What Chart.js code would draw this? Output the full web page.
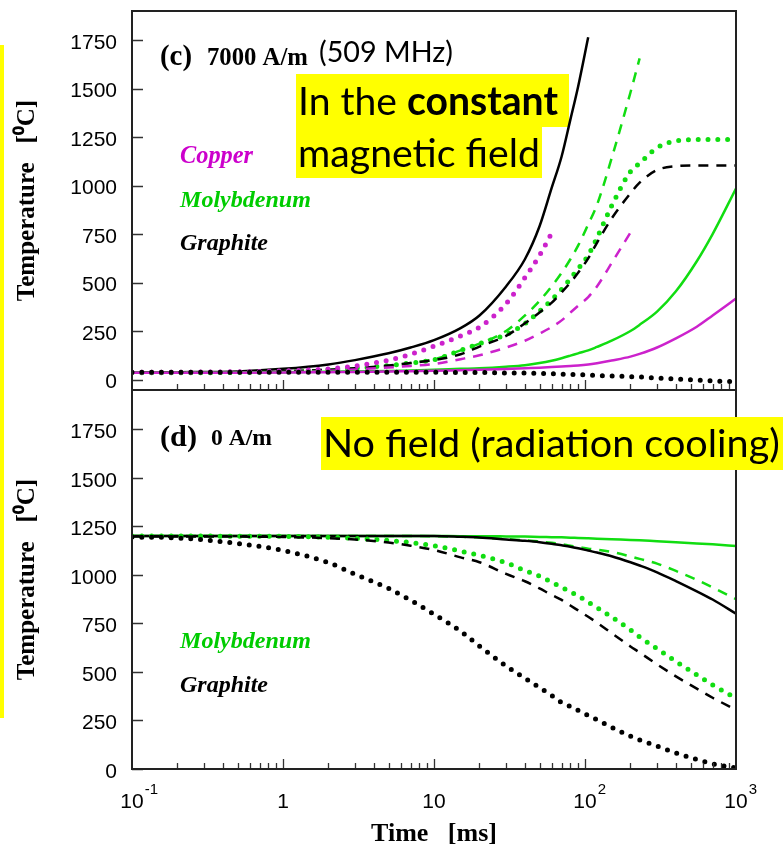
<!DOCTYPE html>
<html><head><meta charset="utf-8">
<script src="https://cdn.jsdelivr.net/npm/chart.js@4/dist/chart.umd.min.js"></script>
<style>
html,body{margin:0;padding:0;background:#fff;}
body{width:783px;height:850px;position:relative;overflow:hidden;}
#wrapTop{position:absolute;left:0;top:0;width:783px;height:395px;z-index:2}
#wrapBot{position:absolute;left:0;top:380px;width:783px;height:470px;z-index:1}
#ybar{position:absolute;left:0;top:45px;width:4px;height:673px;background:#ffff00;z-index:3}
canvas{display:block}
</style></head><body>
<div id="ybar"></div>
<div id="wrapTop"><canvas id="cTop" width="783" height="395"></canvas></div>
<div id="wrapBot"><canvas id="cBot" width="783" height="470"></canvas></div>
<script>
// ---- data (time in ms, temperature in deg C) ----
const timeMs = [0.1,0.2,0.5,1,2,3,5,7,10,15,20,30,40,50,60,70,80,90,105,120,150,200,230,300,400,550,700,1000];

// (c) 7000 A/m
const topGraphiteSolid  = [37,38,42,55,78,100,135,165,203,265,330,480,620,790,985,1150,1340,1510,1765,null,null,null,null,null,null,null,null,null];
const topGraphiteDashed = [35,35,37,42,50,58,72,85,100,130,170,225,290,345,395,450,500,550,625,705,830,960,1015,1080,1100,1104,1104,1104];
const topGraphiteDotted = [37,37,37,37,37,37,37,37,37,36,36,34,33,31,30,28,27,25,23,21,18,15,13,8,3,-3,-7,-11];
const topMoSolid  = [35,35,36,38,40,42,44,47,50,55,58,66,74,85,97,110,123,135,150,168,200,250,282,350,455,610,750,985];
const topMoDashed = [35,35,37,42,50,58,68,85,105,150,185,250,330,405,480,550,620,690,800,900,1140,1480,1656,null,null,null,null,null];
const topMoDotted = [35,35,37,42,50,58,72,85,102,150,185,232,288,352,410,465,520,570,640,730,895,1072,1115,1195,1230,1237,1238,1238];
const topCuSolid  = [35,35,35,36,38,39,41,43,45,48,50,54,58,61,64,67,70,72,77,84,98,118,132,165,212,272,330,418];
const topCuDashed = [35,35,36,38,45,52,62,70,80,105,125,165,200,237,270,305,345,380,425,480,600,758,null,null,null,null,null,null];
const topCuDotted = [38,38,40,44,55,70,100,130,172,225,270,390,525,640,754,null,null,null,null,null,null,null,null,null,null,null,null,null];

// (d) 0 A/m
const botGraphiteSolid  = [1200,1200,1200,1200,1200,1200,1200,1200,1200,1196,1192,1182,1175,1168,1160,1152,1145,1137,1125,1115,1096,1065,1048,1013,968,915,873,800];
const botGraphiteDashed = [1198,1198,1197,1195,1189,1182,1166,1150,1128,1090,1065,1005,967,930,897,871,842,817,784,754,700,631,600,539,477,414,367,305];
const botGraphiteDotted = [1195,1190,1162,1125,1063,1003,930,869,797,710,633,531,467,419,379,342,322,302,276,254,215,169,150,118,83,49,27,5];
const botMoSolid  = [1200,1200,1200,1200,1200,1200,1200,1200,1200,1199,1199,1198,1197,1195,1194,1193,1191,1190,1188,1186,1183,1180,1178,1173,1168,1162,1157,1149];
const botMoDashed = [1200,1200,1200,1200,1200,1200,1200,1200,1199,1196,1192,1185,1178,1172,1165,1158,1150,1144,1135,1130,1118,1095,1082,1058,1020,974,935,875];
const botMoDotted = [1200,1200,1199,1198,1194,1188,1177,1166,1150,1122,1100,1062,1022,993,962,936,913,892,859,831,783,716,680,620,554,485,433,365];

// ticks
const yTickValues = [0,250,500,750,1000,1250,1500,1750];
const xTickValues = [0.1,1,10,100,1000];
const xTickBase = ['10','1','10','10','10'];
const xTickExp  = ['-1','','','2','3'];

// ---- styles ----
const BLACK = '#000000', GREEN = '#11dd11', MAGENTA = '#cc22cc';
const STYLES = {
  solid:  {borderWidth: 2.5, borderDash: [], borderCapStyle: 'butt'},
  dashed: {borderWidth: 2.5, borderDash: [10, 8], borderCapStyle: 'butt'},
  dotted: {borderWidth: 5,   borderDash: [0, 9.8], borderCapStyle: 'round'}
};
function ds(label, values, color, style) {
  return Object.assign({
    label, borderColor: color, backgroundColor: color,
    data: timeMs.map((t, i) => ({x: t, y: values[i]})),
    pointRadius: 0, fill: false, spanGaps: false,
    cubicInterpolationMode: 'monotone'
  }, STYLES[style]);
}

const SERIF = "'Liberation Serif', 'Times New Roman', serif";
const SANS = "'Liberation Sans', Arial, sans-serif";
const CAL = "Lato, 'Open Sans', sans-serif";

function fitSize(ctx, parts, target) {
  let w = 0;
  for (const p of parts) { ctx.font = `${p[1]} 100px ${p[2]}`; w += ctx.measureText(p[0]).width; }
  return 100 * target / w;
}
// parts: [text, style, family, color]
function drawParts(ctx, parts, x, y, target) {
  const s = fitSize(ctx, parts, target);
  ctx.textBaseline = 'alphabetic'; ctx.textAlign = 'left';
  let cx = x;
  for (const p of parts) {
    ctx.font = `${p[1]} ${s}px ${p[2]}`;
    ctx.fillStyle = p[3];
    ctx.fillText(p[0], cx, y);
    cx += ctx.measureText(p[0]).width;
  }
}

function makePlugin(under, over) {
  return {
    id: 'frameTicks',
    beforeDatasetsDraw(chart) { if (under) { chart.ctx.save(); under(chart.ctx, chart); chart.ctx.restore(); } },
    afterDatasetsDraw(chart) {
      const {ctx, chartArea: a, scales: {x, y}} = chart;
      ctx.save();
      ctx.strokeStyle = '#333'; ctx.lineWidth = 1.3;
      ctx.beginPath();
      for (const v of yTickValues) {
        const py = Math.round(y.getPixelForValue(v)) + 0.5;
        ctx.moveTo(a.left, py); ctx.lineTo(a.left + 11, py);
      }
      for (let e = -1; e < 3; e++) {
        for (let m = 1; m < 10; m++) {
          const v = m * Math.pow(10, e);
          if (e === -1 && m === 1) continue;
          const px = Math.round(x.getPixelForValue(v)) + 0.5;
          const len = m === 1 ? 10 : 6;
          ctx.moveTo(px, a.bottom); ctx.lineTo(px, a.bottom - len);
        }
      }
      ctx.stroke();
      ctx.strokeStyle = '#222'; ctx.lineWidth = 2;
      ctx.strokeRect(a.left, a.top, a.right - a.left, a.bottom - a.top);
      ctx.restore();
      if (over) { ctx.save(); over(ctx, chart); ctx.restore(); }
    }
  };
}

function baseOptions(yMin, yMax, padTop, xHeight, showX) {
  return {
    responsive: false, animation: false, devicePixelRatio: 1,
    layout: {padding: {left: 0, right: 47, top: padTop, bottom: 0}},
    plugins: {legend: {display: false}, tooltip: {enabled: false}},
    scales: {
      x: {
        type: 'logarithmic', min: 0.1, max: 1000,
        afterBuildTicks: s => { s.ticks = xTickValues.map(v => ({value: v})); },
        afterFit: s => { s.height = xHeight; s.paddingLeft = 0; s.paddingRight = 0; },
        grid: {display: false, drawTicks: false}, border: {display: false},
        ticks: {display: false},
        title: {display: showX, text: 'Time   [ms]', color: '#000',
                font: {family: SERIF, size: 26, weight: 'bold'}, padding: {top: 0, bottom: 0}}
      },
      y: {
        min: yMin, max: yMax,
        afterBuildTicks: s => { s.ticks = yTickValues.map(v => ({value: v})); },
        afterFit: s => { s.width = 132; s.paddingTop = 0; s.paddingBottom = 0; },
        grid: {display: false, drawTicks: false}, border: {display: false},
        ticks: {padding: 15, labelOffset: 3, callback: v => String(v), font: {family: SANS, size: 21}, color: '#000'},
        title: {display: true, text: 'Temperature   [\u2070C]', color: '#000',
                font: {family: SERIF, size: 25, weight: 'bold'}, padding: {top: 13, bottom: 0}}
      }
    }
  };
}

// ---- top chart (c) ----
new Chart(document.getElementById('cTop'), {
  type: 'line',
  data: {datasets: [
    ds('Graphite dotted', topGraphiteDotted, BLACK, 'dotted'),
    ds('Copper solid', topCuSolid, MAGENTA, 'solid'),
    ds('Molybdenum solid', topMoSolid, GREEN, 'solid'),
    ds('Copper dashed', topCuDashed, MAGENTA, 'dashed'),
    ds('Copper dotted', topCuDotted, MAGENTA, 'dotted'),
    ds('Graphite dashed', topGraphiteDashed, BLACK, 'dashed'),
    ds('Molybdenum dashed', topMoDashed, GREEN, 'dashed'),
    ds('Molybdenum dotted', topMoDotted, GREEN, 'dotted'),
    ds('Graphite solid', topGraphiteSolid, BLACK, 'solid')
  ]},
  options: baseOptions(-54, 1900, 11, 5, false),
  plugins: [makePlugin(
    (ctx) => {
      ctx.fillStyle = '#ffff00';
      ctx.fillRect(296, 74, 273, 53);
      ctx.fillRect(296, 127, 246, 51);
      drawParts(ctx, [['In the ', 'normal', CAL, '#000'], ['constant', 'bold', CAL, '#000']], 298, 115, 260);
      drawParts(ctx, [['magnetic field', 'normal', CAL, '#000']], 298, 167, 242);
    },
    (ctx) => {
      drawParts(ctx, [['(c)', 'bold', SERIF, '#000']], 160, 65, 32);
      drawParts(ctx, [['7000 A/m', 'bold', SERIF, '#000']], 207, 65, 101);
      drawParts(ctx, [['(509 MHz)', 'normal', CAL, '#000']], 319, 62, 134);
      drawParts(ctx, [['Copper', 'italic bold', SERIF, '#cc00cc']], 180, 163, 73);
      drawParts(ctx, [['Molybdenum', 'italic bold', SERIF, '#00cc00']], 180, 207, 131);
      drawParts(ctx, [['Graphite', 'italic bold', SERIF, '#000']], 180, 250, 88);
    }
  )]
});

// ---- bottom chart (d) ----
new Chart(document.getElementById('cBot'), {
  type: 'line',
  data: {datasets: [
    ds('Graphite dotted', botGraphiteDotted, BLACK, 'dotted'),
    ds('Graphite dashed', botGraphiteDashed, BLACK, 'dashed'),
    ds('Molybdenum dotted', botMoDotted, GREEN, 'dotted'),
    ds('Graphite solid', botGraphiteSolid, BLACK, 'solid'),
    ds('Molybdenum dashed', botMoDashed, GREEN, 'dashed'),
    ds('Molybdenum solid', botMoSolid, GREEN, 'solid')
  ]},
  options: baseOptions(0, 1952, 10, 81, true),
  plugins: [makePlugin(
    null,
    (ctx, chart) => {
      // x tick labels (base + superscript exponent), positioned by the log scale
      const xs = chart.scales.x;
      const base = chart.chartArea.bottom;
      ctx.fillStyle = '#000'; ctx.textBaseline = 'alphabetic'; ctx.textAlign = 'left';
      xTickValues.forEach((v, i) => {
        const px = xs.getPixelForValue(v);
        ctx.font = `21px ${SANS}`;
        const wb = ctx.measureText(xTickBase[i]).width;
        ctx.fillText(xTickBase[i], px - wb / 2, base + 39);
        if (xTickExp[i]) { ctx.font = `15px ${SANS}`; ctx.fillText(xTickExp[i], px + wb / 2 + 1, base + 25); }
      });
      drawParts(ctx, [['(d)', 'bold', SERIF, '#000']], 160, 66, 37);
      drawParts(ctx, [['0 A/m', 'bold', SERIF, '#000']], 211, 65, 61);
      drawParts(ctx, [['Molybdenum', 'italic bold', SERIF, '#00cc00']], 180, 268, 131);
      drawParts(ctx, [['Graphite', 'italic bold', SERIF, '#000']], 180, 312, 88);
      ctx.fillStyle = '#ffff00';
      ctx.fillRect(321, 37, 462, 53);
      drawParts(ctx, [['No field (radiation cooling)', 'normal', CAL, '#000']], 323, 77, 457);
    }
  )]
});
</script>
</body></html>
